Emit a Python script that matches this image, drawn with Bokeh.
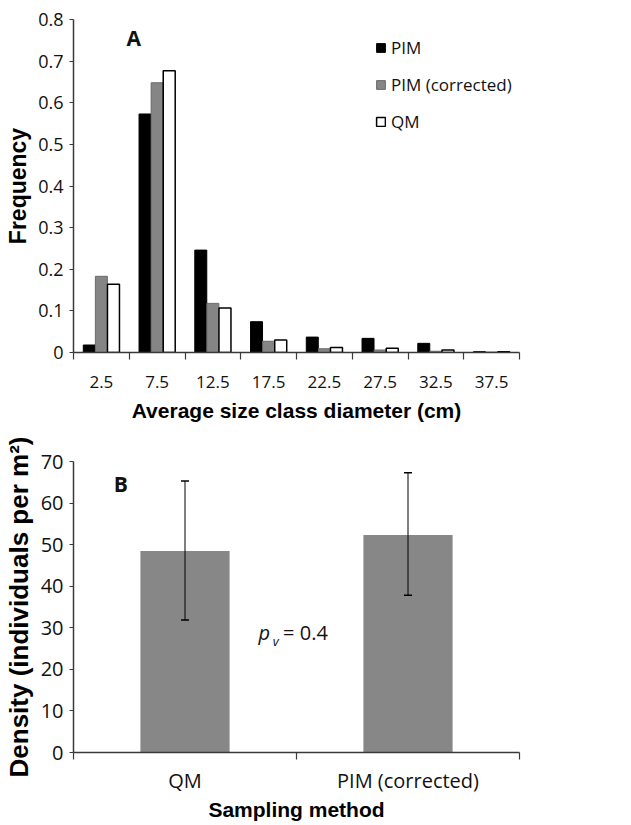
from bokeh.plotting import figure
from bokeh.layouts import column
from bokeh.models import (ColumnDataSource, FixedTicker, NumeralTickFormatter, Label,
                          Whisker, TeeHead, Legend, LegendItem)
from bokeh.embed import file_html
from bokeh.resources import INLINE

# ---------------- data ----------------
size_classes = ["2.5", "7.5", "12.5", "17.5", "22.5", "27.5", "32.5", "37.5"]
pim = [0.018, 0.573, 0.246, 0.074, 0.037, 0.034, 0.022, 0.002]
pim_corrected = [0.183, 0.648, 0.118, 0.027, 0.009, 0.006, 0.003, 0.001]
qm = [0.164, 0.677, 0.107, 0.030, 0.012, 0.010, 0.006, 0.002]
freq_ticks = [0, 0.1, 0.2, 0.3, 0.4, 0.5, 0.6, 0.7, 0.8]

methods = ["QM", "PIM (corrected)"]
density = [48.5, 52.3]
density_lower = [31.9, 37.8]
density_upper = [65.3, 67.3]
density_ticks = [0, 10, 20, 30, 40, 50, 60, 70]

TICK_FONT = "Open Sans"
TITLE_FONT = "Liberation Sans"
AXIS_COLOR = "#3a3a3a"


def style_axes(p, tick_size, ytitle_size):
    p.grid.visible = False
    p.outline_line_color = None
    for ax in p.axis:
        ax.axis_line_color = AXIS_COLOR
        ax.axis_line_width = 1.5
        ax.major_tick_line_color = AXIS_COLOR
        ax.minor_tick_line_color = AXIS_COLOR
        ax.major_tick_line_width = 1.2
        ax.minor_tick_line_width = 1.2
        ax.major_tick_in = 0
        ax.minor_tick_in = 0
        ax.major_label_text_font = TICK_FONT
        ax.major_label_text_font_size = tick_size
        ax.major_label_text_color = "#111111"
        ax.axis_label_text_font = TITLE_FONT
        ax.axis_label_text_font_style = "bold"
        ax.axis_label_text_color = "black"
    p.xaxis.axis_label_text_font_size = "21px"
    p.yaxis.axis_label_text_font_size = ytitle_size


# ---------------- panel A ----------------
n = len(size_classes)
centers = [i + 0.5 for i in range(n)]
bw = 0.215
off = 0.217

pA = figure(width=631, height=432, x_range=(0, n), y_range=(0, 0.8),
            output_backend="svg", toolbar_location=None,
            min_border_left=72, min_border_right=112, min_border_top=19,
            min_border_bottom=80)

r1 = pA.vbar(x=[c - off for c in centers], top=pim, width=bw,
             fill_color="black", line_color="black", line_width=1)
r2 = pA.vbar(x=centers, top=pim_corrected, width=bw,
             fill_color="#858585", line_color="#6a6a6a", line_width=1)
r3 = pA.vbar(x=[c + off for c in centers], top=qm, width=bw,
             fill_color="white", line_color="black", line_width=1.5)

style_axes(pA, "17px", "23px")
pA.xaxis.ticker = FixedTicker(ticks=centers, minor_ticks=list(range(n + 1)))
pA.xaxis.major_label_overrides = {c: s for c, s in zip(centers, size_classes)}
pA.xaxis.major_tick_out = 0
pA.xaxis.minor_tick_out = 7
pA.xaxis.major_label_standoff = 16
pA.xaxis.axis_label = "Average size class diameter (cm)"
pA.xaxis.axis_label_standoff = 8

pA.yaxis.ticker = FixedTicker(ticks=freq_ticks, minor_ticks=[])
pA.yaxis.formatter = NumeralTickFormatter(format="0.[0]")
pA.yaxis.major_tick_out = 4
pA.yaxis.major_label_standoff = 6
pA.yaxis.axis_label = "Frequency"
pA.yaxis.axis_label_standoff = 4
pA.xaxis.major_label_text_font_size = "17px"
pA.yaxis.major_label_text_font_size = "18px"

legend = Legend(items=[LegendItem(label="PIM", renderers=[r1]),
                       LegendItem(label="PIM (corrected)", renderers=[r2]),
                       LegendItem(label="QM", renderers=[r3])],
                location=(302, 219))
legend.glyph_width = 11
legend.glyph_height = 11
legend.label_standoff = 5
legend.label_height = 20
legend.spacing = 14
legend.padding = 0
legend.margin = 0
legend.border_line_color = None
legend.background_fill_alpha = 0
legend.label_text_font = TICK_FONT
legend.label_text_font_size = "17px"
legend.label_text_color = "#111111"
pA.add_layout(legend)

pA.add_layout(Label(x=0.95, y=0.755, text="A", text_font=TICK_FONT,
                    text_font_style="bold", text_font_size="21px",
                    text_baseline="middle", text_color="#111111"))

# ---------------- panel B ----------------
m = len(methods)
mc = [i + 0.5 for i in range(m)]

pB = figure(width=631, height=393, x_range=(0, m), y_range=(0, 70),
            output_backend="svg", toolbar_location=None,
            min_border_left=72, min_border_right=104, min_border_top=29,
            min_border_bottom=73)

pB.vbar(x=mc, top=density, width=0.40, fill_color="#878787", line_color=None)
wsrc = ColumnDataSource(dict(x=mc, lower=density_lower, upper=density_upper))
pB.add_layout(Whisker(source=wsrc, base="x", lower="lower", upper="upper",
                      line_color="black", line_width=1, level="annotation",
                      upper_head=TeeHead(size=8, line_color="black", line_width=1.5),
                      lower_head=TeeHead(size=8, line_color="black", line_width=1.5)))

style_axes(pB, "20px", "26px")
pB.xaxis.ticker = FixedTicker(ticks=mc, minor_ticks=list(range(m + 1)))
pB.xaxis.major_label_overrides = {c: s for c, s in zip(mc, methods)}
pB.xaxis.major_tick_out = 0
pB.xaxis.minor_tick_out = 7
pB.xaxis.major_label_standoff = 7
pB.xaxis.axis_label = "Sampling method"
pB.xaxis.axis_label_standoff = 1

pB.yaxis.ticker = FixedTicker(ticks=density_ticks, minor_ticks=[])
pB.yaxis.major_tick_out = 4
pB.yaxis.major_label_standoff = 6
pB.yaxis.axis_label = "Density (individuals per m\u00b2)"
pB.yaxis.axis_label_standoff = 4

pB.add_layout(Label(x=0.18, y=64.7, text="B", text_font=TICK_FONT,
                    text_font_style="bold", text_font_size="21px",
                    text_baseline="middle", text_color="#111111"))
pB.add_layout(Label(x=0.83, y=28.9, text="p", text_font=TICK_FONT,
                    text_font_style="italic", text_font_size="20px",
                    text_baseline="alphabetic", text_color="#111111"))
pB.add_layout(Label(x=0.893, y=26.8, text="v", text_font=TICK_FONT,
                    text_font_style="italic", text_font_size="13px",
                    text_baseline="alphabetic", text_color="#111111"))
pB.add_layout(Label(x=0.94, y=28.9, text="= 0.4", text_font=TICK_FONT,
                    text_font_size="20px",
                    text_baseline="alphabetic", text_color="#111111"))

layout = column(pA, pB, spacing=0)
open("out.html", "w").write(file_html(layout, INLINE))
